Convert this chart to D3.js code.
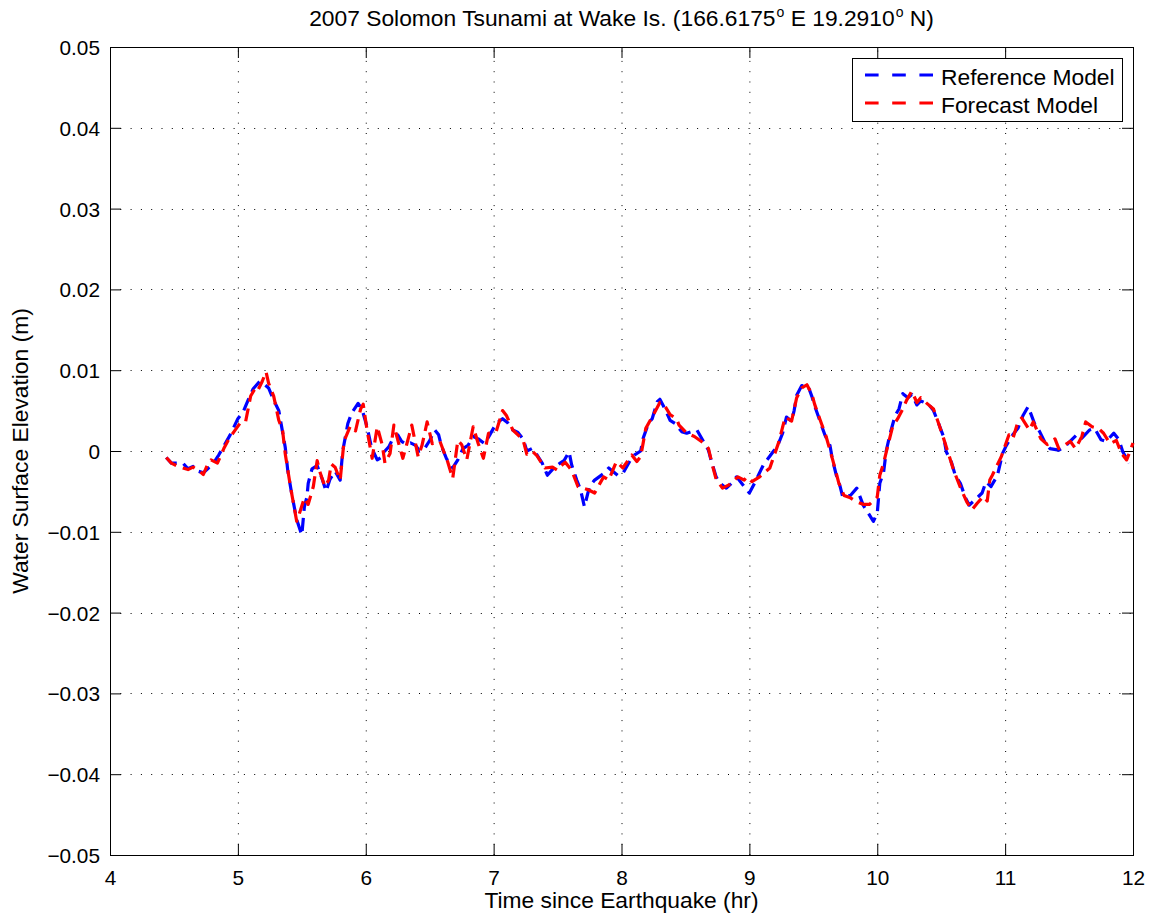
<!DOCTYPE html>
<html>
<head>
<meta charset="utf-8">
<script src="https://cdn.jsdelivr.net/npm/d3@7"></script>
<style>
  html, body { margin: 0; padding: 0; background: #fff; }
  svg { display: block; font-family: "Liberation Sans", Arial, Helvetica, sans-serif; }
</style>
</head>
<body>
<svg id="chart" width="1162" height="921"></svg>
<script>
// ---- data ----
const xTicks = [4, 5, 6, 7, 8, 9, 10, 11, 12];
const yTicks = [-0.05, -0.04, -0.03, -0.02, -0.01, 0, 0.01, 0.02, 0.03, 0.04, 0.05];
const yTickLabels = ["\u22120.05", "\u22120.04", "\u22120.03", "\u22120.02", "\u22120.01", "0", "0.01", "0.02", "0.03", "0.04", "0.05"];
const seriesNames = ["Reference Model", "Forecast Model"];
const seriesColors = ["#0000ff", "#ff0000"];

const refTime = [4.44,4.48,4.57,4.61,4.65,4.69,4.73,4.77,4.81,4.85,4.89,4.94,5.00,5.04,5.08,5.12,5.17,5.21,5.24,5.28,5.32,5.34,5.37,5.39,5.42,5.46,5.50,5.52,5.54,5.55,5.58,5.62,5.66,5.69,5.72,5.76,5.80,5.82,5.86,5.89,5.94,5.97,6.01,6.04,6.06,6.09,6.12,6.15,6.18,6.22,6.25,6.28,6.32,6.35,6.39,6.42,6.46,6.50,6.54,6.57,6.59,6.63,6.68,6.72,6.76,6.80,6.84,6.88,6.93,6.97,7.02,7.07,7.11,7.15,7.19,7.23,7.26,7.30,7.34,7.38,7.42,7.47,7.52,7.55,7.59,7.61,7.65,7.68,7.71,7.75,7.79,7.86,7.90,7.97,8.01,8.07,8.10,8.15,8.17,8.21,8.24,8.28,8.30,8.34,8.38,8.42,8.47,8.51,8.55,8.59,8.64,8.68,8.70,8.74,8.77,8.82,8.86,8.90,8.95,9.00,9.04,9.11,9.19,9.22,9.26,9.29,9.33,9.35,9.37,9.41,9.46,9.49,9.51,9.55,9.59,9.63,9.65,9.68,9.71,9.73,9.79,9.84,9.89,9.93,9.97,10.00,10.02,10.05,10.07,10.10,10.14,10.17,10.20,10.24,10.27,10.31,10.34,10.40,10.44,10.48,10.52,10.54,10.58,10.61,10.65,10.69,10.72,10.78,10.82,10.85,10.89,10.94,10.98,11.01,11.06,11.10,11.14,11.18,11.23,11.27,11.31,11.35,11.42,11.46,11.49,11.56,11.60,11.66,11.70,11.75,11.79,11.85,11.89,11.92,11.97];
const refValue = [-0.0008,-0.0015,-0.0015,-0.0022,-0.0019,-0.0025,-0.0027,-0.0021,-0.0015,-0.0005,0.0006,0.0020,0.0040,0.0048,0.0063,0.0077,0.0086,0.0082,0.0078,0.0063,0.0050,0.0032,0.0005,-0.0024,-0.0052,-0.0085,-0.0104,-0.0069,-0.0057,-0.0040,-0.0022,-0.0018,-0.0035,-0.0050,-0.0035,-0.0025,-0.0036,0.0000,0.0034,0.0047,0.0059,0.0052,0.0030,0.0008,-0.0001,-0.0011,-0.0008,0.0000,0.0005,0.0018,0.0020,0.0012,0.0008,0.0010,0.0007,0.0000,0.0003,0.0013,0.0026,0.0020,0.0007,-0.0009,-0.0021,-0.0011,0.0003,0.0007,0.0018,0.0015,0.0009,0.0020,0.0034,0.0040,0.0035,0.0026,0.0023,0.0015,0.0000,0.0003,-0.0005,-0.0015,-0.0030,-0.0021,-0.0015,-0.0012,-0.0001,-0.0017,-0.0036,-0.0048,-0.0069,-0.0044,-0.0036,-0.0028,-0.0021,-0.0030,-0.0028,-0.0011,-0.0005,0.0000,0.0016,0.0034,0.0040,0.0061,0.0064,0.0052,0.0038,0.0034,0.0024,0.0022,0.0024,0.0026,0.0012,0.0001,-0.0011,-0.0032,-0.0040,-0.0046,-0.0040,-0.0032,-0.0042,-0.0052,-0.0040,-0.0017,0.0000,0.0006,0.0022,0.0042,0.0037,0.0050,0.0069,0.0081,0.0080,0.0067,0.0056,0.0038,0.0020,0.0007,-0.0011,-0.0030,-0.0044,-0.0057,-0.0055,-0.0046,-0.0067,-0.0077,-0.0087,-0.0077,-0.0040,-0.0026,0.0000,0.0021,0.0044,0.0052,0.0071,0.0066,0.0070,0.0057,0.0062,0.0058,0.0050,0.0034,0.0017,-0.0001,-0.0014,-0.0030,-0.0040,-0.0058,-0.0067,-0.0058,-0.0052,-0.0038,-0.0044,-0.0030,-0.0003,0.0007,0.0020,0.0028,0.0044,0.0055,0.0034,0.0024,0.0011,0.0003,0.0001,0.0005,0.0009,0.0020,0.0016,0.0026,0.0028,0.0014,0.0012,0.0022,0.0014,-0.0001,-0.0015];

const fcTime = [4.44,4.48,4.53,4.57,4.61,4.65,4.70,4.73,4.76,4.79,4.84,4.89,4.93,4.97,5.02,5.06,5.10,5.13,5.15,5.19,5.22,5.24,5.28,5.32,5.35,5.37,5.41,5.46,5.48,5.52,5.55,5.59,5.62,5.64,5.68,5.71,5.73,5.76,5.80,5.83,5.88,5.92,5.96,5.98,6.01,6.05,6.09,6.13,6.15,6.19,6.22,6.26,6.29,6.32,6.36,6.41,6.44,6.48,6.52,6.58,6.64,6.68,6.72,6.75,6.79,6.84,6.88,6.92,6.96,7.02,7.07,7.10,7.15,7.19,7.23,7.26,7.30,7.34,7.40,7.46,7.50,7.53,7.56,7.61,7.66,7.70,7.74,7.79,7.86,7.90,7.96,8.01,8.08,8.12,8.15,8.19,8.26,8.30,8.33,8.38,8.43,8.45,8.51,8.57,8.65,8.68,8.71,8.74,8.79,8.84,8.91,8.96,8.98,9.02,9.08,9.16,9.23,9.28,9.33,9.37,9.41,9.45,9.49,9.51,9.55,9.60,9.65,9.70,9.74,9.79,9.84,9.89,9.94,9.98,10.00,10.02,10.05,10.08,10.12,10.16,10.20,10.23,10.27,10.31,10.34,10.38,10.44,10.48,10.52,10.56,10.60,10.65,10.70,10.74,10.78,10.83,10.86,10.88,10.90,10.97,11.03,11.06,11.10,11.13,11.19,11.22,11.28,11.33,11.39,11.42,11.48,11.51,11.55,11.60,11.63,11.68,11.73,11.77,11.82,11.87,11.91,11.95,11.98,12.00];
const fcValue = [-0.0008,-0.0015,-0.0019,-0.0021,-0.0023,-0.0020,-0.0025,-0.0029,-0.0018,-0.0011,-0.0015,0.0003,0.0015,0.0024,0.0035,0.0036,0.0068,0.0076,0.0073,0.0086,0.0098,0.0084,0.0068,0.0038,0.0025,-0.0003,-0.0043,-0.0087,-0.0078,-0.0058,-0.0066,-0.0044,-0.0012,-0.0025,-0.0044,-0.0036,-0.0016,-0.0020,-0.0036,0.0012,0.0031,0.0025,0.0052,0.0058,0.0026,-0.0009,0.0030,0.0007,-0.0015,-0.0003,0.0032,0.0008,-0.0009,0.0008,0.0032,-0.0007,0.0007,0.0036,0.0009,0.0012,-0.0013,-0.0034,0.0013,0.0008,-0.0011,0.0030,0.0009,-0.0009,0.0022,0.0024,0.0050,0.0044,0.0026,0.0020,0.0014,-0.0004,0.0000,-0.0006,-0.0021,-0.0020,-0.0024,-0.0018,-0.0014,-0.0024,-0.0044,-0.0046,-0.0048,-0.0052,-0.0032,-0.0036,-0.0013,-0.0021,-0.0005,-0.0013,-0.0007,0.0028,0.0048,0.0060,0.0058,0.0045,0.0040,0.0032,0.0022,0.0018,0.0009,0.0003,-0.0017,-0.0035,-0.0046,-0.0042,-0.0032,-0.0036,-0.0032,-0.0038,-0.0032,-0.0021,0.0011,0.0042,0.0037,0.0066,0.0078,0.0082,0.0070,0.0058,0.0040,0.0018,-0.0010,-0.0040,-0.0055,-0.0058,-0.0063,-0.0066,-0.0066,-0.0060,-0.0057,-0.0030,-0.0015,0.0005,0.0030,0.0040,0.0052,0.0063,0.0074,0.0060,0.0066,0.0060,0.0052,0.0034,0.0015,-0.0005,-0.0025,-0.0045,-0.0063,-0.0073,-0.0065,-0.0056,-0.0062,-0.0036,-0.0030,-0.0007,0.0020,0.0015,0.0036,0.0041,0.0026,0.0036,0.0015,0.0008,0.0015,0.0003,0.0009,0.0012,0.0003,0.0018,0.0036,0.0030,0.0028,0.0022,0.0009,0.0013,-0.0003,-0.0011,0.0001,0.0010];

// ---- layout ----
const svg = d3.select("#chart");
const L = 110, R = 1133, T = 47, B = 855;
const x = d3.scaleLinear().domain([4, 12]).range([L, R]);
const y = d3.scaleLinear().domain([-0.05, 0.05]).range([B, T]);
const tickFont = 20.8, labelFont = 22.8;

// grid (dotted)
const grid = svg.append("g").attr("stroke", "#000").attr("stroke-width", 1)
  .attr("stroke-dasharray", "1,9.3");
grid.selectAll("line.gx").data(xTicks.slice(1, -1)).join("line")
  .attr("x1", d => x(d) + 0.5).attr("x2", d => x(d) + 0.5).attr("y1", B).attr("y2", T);
grid.selectAll("line.gy").data(yTicks.slice(1, -1)).join("line")
  .attr("y1", d => Math.round(y(d)) + 0.5).attr("y2", d => Math.round(y(d)) + 0.5).attr("x1", L).attr("x2", R);

// axes with inward ticks on all sides
function styleAxis(g) {
  g.select(".domain").remove();
  g.selectAll(".tick line").attr("stroke", "#000").attr("stroke-width", 1);
}
const tk = 11;
svg.append("g").attr("transform", `translate(0,${B})`)
  .call(d3.axisBottom(x).tickValues(xTicks).tickSize(-tk).tickFormat(d3.format("d")))
  .call(styleAxis)
  .call(g => g.selectAll(".tick text").attr("y", 30).attr("dy", 0)
    .attr("font-size", tickFont).attr("fill", "#000").attr("font-family", "Liberation Sans, Arial, sans-serif"));
svg.append("g").attr("transform", `translate(0,${T})`)
  .call(d3.axisTop(x).tickValues(xTicks).tickSize(-tk).tickFormat(""))
  .call(styleAxis);
svg.append("g").attr("transform", `translate(${L},0)`)
  .call(d3.axisLeft(y).tickValues(yTicks).tickSize(-tk).tickFormat((d, i) => yTickLabels[i]))
  .call(styleAxis)
  .call(g => g.selectAll(".tick text").attr("x", -10).attr("dy", "0.36em")
    .attr("font-size", tickFont).attr("fill", "#000").attr("font-family", "Liberation Sans, Arial, sans-serif"));
svg.append("g").attr("transform", `translate(${R},0)`)
  .call(d3.axisRight(y).tickValues(yTicks).tickSize(-tk).tickFormat(""))
  .call(styleAxis);

// box
svg.append("rect").attr("x", L + 0.5).attr("y", T + 0.5).attr("width", R - L).attr("height", B - T)
  .attr("fill", "none").attr("stroke", "#000").attr("stroke-width", 1);

// lines
const series = [
  { name: seriesNames[0], color: seriesColors[0], pts: refTime.map((t, i) => [t, refValue[i]]) },
  { name: seriesNames[1], color: seriesColors[1], pts: fcTime.map((t, i) => [t, fcValue[i]]) }
];
const line = d3.line().x(d => x(d[0])).y(d => y(d[1]));
svg.append("g").selectAll("path").data(series).join("path")
  .attr("d", d => line(d.pts))
  .attr("fill", "none").attr("stroke", d => d.color).attr("stroke-width", 3.2)
  .attr("stroke-dasharray", "13,7").attr("stroke-linejoin", "round");

// title
const title = svg.append("text").attr("x", (L + R) / 2).attr("y", 26).attr("text-anchor", "middle")
  .attr("font-size", labelFont).attr("fill", "#000");
title.append("tspan").text("2007 Solomon Tsunami at Wake Is. (166.6175");
title.append("tspan").attr("dy", -9).attr("font-size", 14).attr("dx", 1).text("o");
title.append("tspan").attr("dy", 9).text(" E 19.2910");
title.append("tspan").attr("dy", -9).attr("font-size", 14).attr("dx", 1).text("o");
title.append("tspan").attr("dy", 9).text(" N)");

// axis labels
svg.append("text").attr("x", (L + R) / 2).attr("y", 908).attr("text-anchor", "middle")
  .attr("font-size", labelFont).attr("fill", "#000").text("Time since Earthquake (hr)");
svg.append("text").attr("transform", `translate(28,${(T + B) / 2}) rotate(-90)`).attr("text-anchor", "middle")
  .attr("font-size", labelFont).attr("fill", "#000").text("Water Surface Elevation (m)");

// legend
const lg = svg.append("g");
lg.append("rect").attr("x", 852.5).attr("y", 58.5).attr("width", 270).attr("height", 63)
  .attr("fill", "#fff").attr("stroke", "#000").attr("stroke-width", 1);
const rows = lg.selectAll("g.row").data(series).join("g").attr("class", "row")
  .attr("transform", (d, i) => `translate(0,${75 + i * 28})`);
rows.append("line").attr("x1", 865).attr("x2", 933).attr("y1", 0).attr("y2", 0)
  .attr("stroke", d => d.color).attr("stroke-width", 3).attr("stroke-dasharray", "13.6,13.6");
rows.append("text").attr("x", 941).attr("y", 10).attr("font-size", labelFont).attr("fill", "#000")
  .text(d => d.name);
</script>
</body>
</html>
